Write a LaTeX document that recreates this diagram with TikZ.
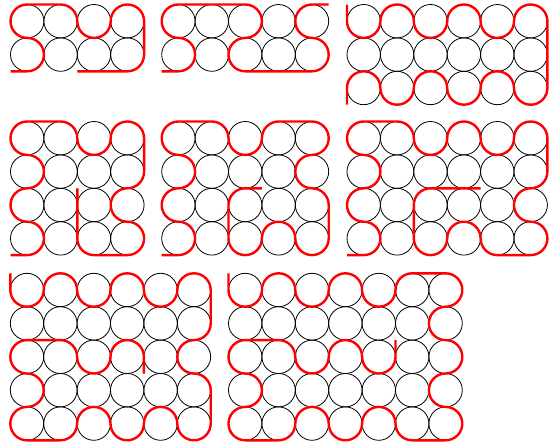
\documentclass[tikz,border=0pt]{standalone}
\begin{document}
\begin{tikzpicture}[
  circ/.style={draw=black, line width=0.8pt},
  rp/.style={draw=red, line width=2.4pt, line join=round},
  panel/.style={x=33.4pt, y=33.4pt}
]
\fill[white] (0,0) rectangle (552pt,-447pt);
\useasboundingbox (0,0) rectangle (552pt,-447pt);

% Panel 1 (4x2)
\begin{scope}[shift={(10.5pt,-4.5pt)}, panel]
  \foreach \i in {0,...,3} \foreach \j in {0,...,1} \draw[circ] (\i+0.5,-\j-0.5) circle[radius=0.5];
  \draw[rp] (0,-2) -- (0.5,-2) arc(-90:90:0.5) arc(270:90:0.5) -- (1.5,0) arc(90:0:0.5) arc(180:360:0.5) arc(180:0:0.5) -- (4,-1.5) arc(0:-90:0.5) -- (2,-2);
\end{scope}

% Panel 2 (5x2)
\begin{scope}[shift={(161.7pt,-4.5pt)}, panel]
  \foreach \i in {0,...,4} \foreach \j in {0,...,1} \draw[circ] (\i+0.5,-\j-0.5) circle[radius=0.5];
  \draw[rp] (0,-2) -- (0.5,-2) arc(-90:90:0.5) arc(270:90:0.5) -- (2.5,0) arc(90:-90:0.5) arc(90:270:0.5) -- (4.5,-2) arc(-90:90:0.5) arc(270:90:0.5) -- (5,0);
\end{scope}

% Panel 3 (6x3)
\begin{scope}[shift={(347pt,-4.5pt)}, panel]
  \foreach \i in {0,...,5} \foreach \j in {0,...,2} \draw[circ] (\i+0.5,-\j-0.5) circle[radius=0.5];
  \draw[rp] (0,0) -- (0,-0.5) arc(180:360:0.5) arc(180:0:0.5) arc(180:360:0.5) arc(180:0:0.5) arc(180:360:0.5) arc(180:0:0.5) -- (6,-2.5) arc(0:-180:0.5) arc(0:180:0.5) arc(360:180:0.5) arc(0:180:0.5) arc(360:180:0.5) arc(0:180:0.5) -- (0,-3);
\end{scope}

% Panel 4 (4x4)
\begin{scope}[shift={(10.5pt,-121.5pt)}, panel]
  \foreach \i in {0,...,3} \foreach \j in {0,...,3} \draw[circ] (\i+0.5,-\j-0.5) circle[radius=0.5];
  \draw[rp] (0,-4) -- (0.5,-4) arc(-90:90:0.5) arc(270:90:0.5) arc(-90:90:0.5) arc(270:90:0.5) -- (1.5,0) arc(90:0:0.5) arc(180:360:0.5) arc(180:0:0.5) -- (4,-1.5) arc(0:-90:0.5) arc(90:270:0.5) arc(90:-90:0.5) -- (2.5,-4) arc(270:180:0.5) -- (2,-2);
\end{scope}

% Panel 5 (5x4)
\begin{scope}[shift={(161.7pt,-121.5pt)}, panel]
  \foreach \i in {0,...,4} \foreach \j in {0,...,3} \draw[circ] (\i+0.5,-\j-0.5) circle[radius=0.5];
  \draw[rp] (0,-4) -- (0.5,-4) arc(-90:90:0.5) arc(270:90:0.5) arc(-90:90:0.5) arc(270:90:0.5) -- (1.5,0) arc(90:0:0.5) arc(180:360:0.5) arc(180:90:0.5) -- (4.5,0) arc(90:-90:0.5) arc(90:270:0.5) arc(90:0:0.5) -- (5,-3.5) arc(0:-180:0.5) arc(0:180:0.5) arc(360:180:0.5) -- (2,-2.5) arc(180:90:0.5) -- (3,-2);
\end{scope}

% Panel 6 (6x4)
\begin{scope}[shift={(347pt,-121.5pt)}, panel]
  \foreach \i in {0,...,5} \foreach \j in {0,...,3} \draw[circ] (\i+0.5,-\j-0.5) circle[radius=0.5];
  \draw[rp] (0,-4) -- (0.5,-4) arc(-90:90:0.5) arc(270:90:0.5) arc(-90:90:0.5) arc(270:90:0.5) -- (1.5,0) arc(90:0:0.5) arc(180:360:0.5) arc(180:0:0.5) arc(180:360:0.5) arc(180:0:0.5) -- (6,-1.5) arc(0:-90:0.5) arc(90:270:0.5) arc(90:-90:0.5) -- (4.5,-4) arc(270:180:0.5) arc(0:180:0.5) arc(360:180:0.5) -- (2,-2.5) arc(180:90:0.5) -- (4,-2);
\end{scope}

% Panel 7 (6x5)
\begin{scope}[shift={(10.3pt,-273.3pt)}, panel]
  \foreach \i in {0,...,5} \foreach \j in {0,...,4} \draw[circ] (\i+0.5,-\j-0.5) circle[radius=0.5];
  \draw[rp] (0,0) -- (0,-0.5) arc(180:360:0.5) arc(180:0:0.5) arc(180:360:0.5) arc(180:0:0.5) arc(180:360:0.5) arc(180:0:0.5) -- (6,-1.5) arc(0:-90:0.5) arc(90:270:0.5) arc(90:0:0.5) -- (6,-4.5) arc(0:-180:0.5) arc(0:180:0.5) arc(360:180:0.5) arc(0:180:0.5) arc(360:270:0.5) -- (0.5,-5) arc(270:90:0.5) arc(-90:90:0.5) arc(270:90:0.5) -- (1.5,-2) arc(90:0:0.5) arc(180:360:0.5) arc(180:0:0.5) -- (4,-3);
\end{scope}

% Panel 8 (7x5)
\begin{scope}[shift={(228.5pt,-273.3pt)}, panel]
  \foreach \i in {0,...,6} \foreach \j in {0,...,4} \draw[circ] (\i+0.5,-\j-0.5) circle[radius=0.5];
  \draw[rp] (0,0) -- (0,-0.5) arc(180:360:0.5) arc(180:0:0.5) arc(180:360:0.5) arc(180:0:0.5) arc(180:360:0.5) arc(180:90:0.5) -- (6.5,0) arc(90:-90:0.5) arc(90:270:0.5) arc(90:-90:0.5) arc(90:270:0.5) arc(90:-90:0.5) -- (5.5,-5) arc(270:180:0.5) arc(0:180:0.5) arc(360:180:0.5) arc(0:180:0.5) arc(360:270:0.5) -- (0.5,-5) arc(270:90:0.5) arc(-90:90:0.5) arc(270:90:0.5) -- (1.5,-2) arc(90:0:0.5) arc(180:360:0.5) arc(180:0:0.5) arc(180:360:0.5) -- (5,-2);
\end{scope}
\end{tikzpicture}
\end{document}
